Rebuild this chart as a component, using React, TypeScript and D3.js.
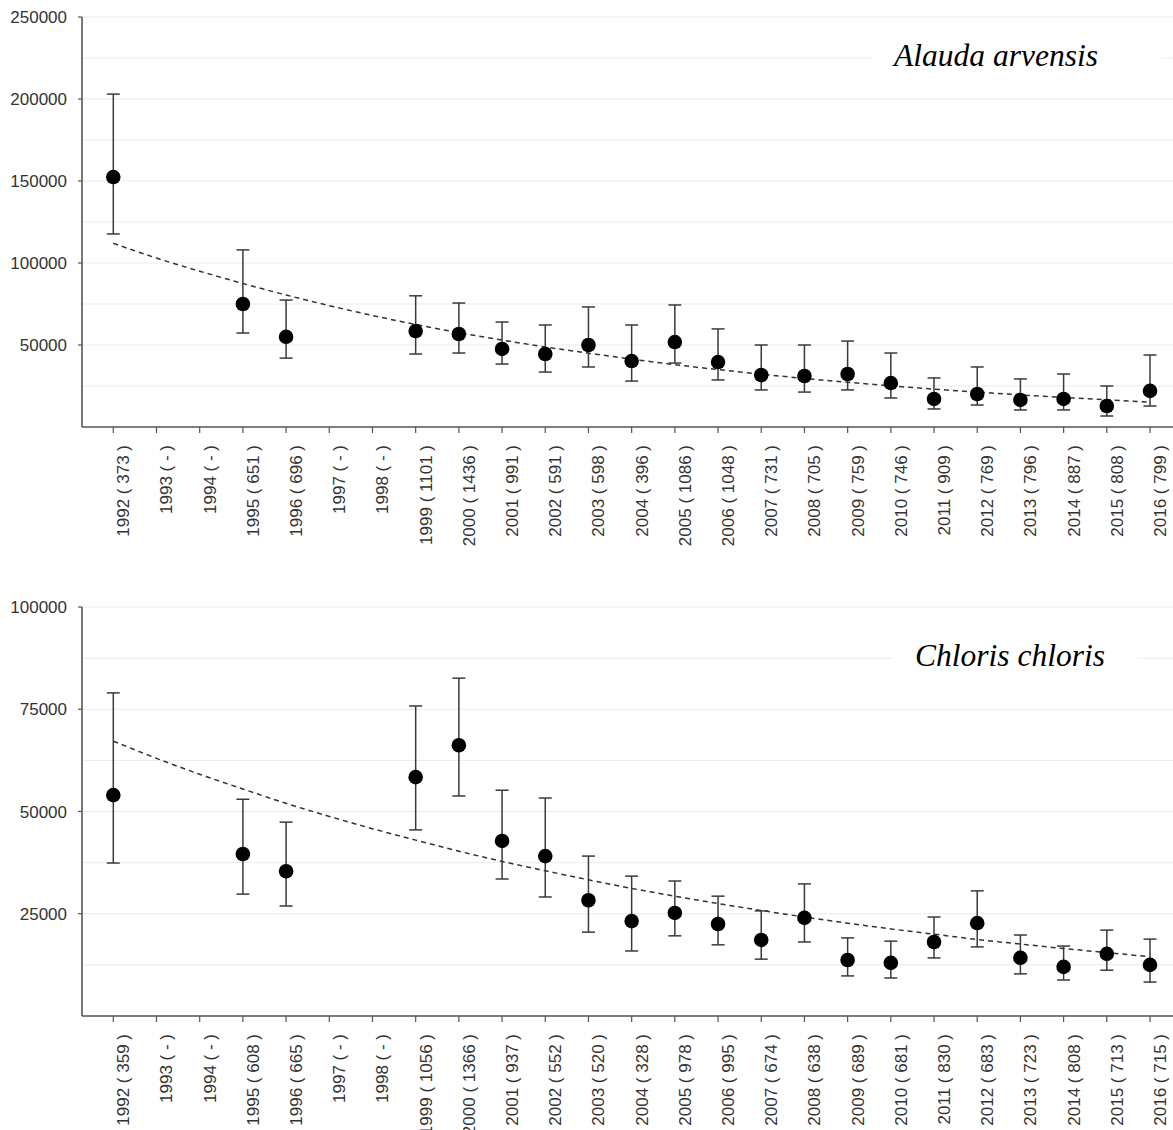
import React from "react";
import * as d3 from "d3";

const years = [1992,1993,1994,1995,1996,1997,1998,1999,2000,2001,2002,2003,2004,2005,2006,2007,2008,2009,2010,2011,2012,2013,2014,2015,2016];

// Panel 1: Alauda arvensis
const alaudaN = ["373","-","-","651","696","-","-","1101","1436","991","591","598","396","1086","1048","731","705","759","746","909","769","796","887","808","799"];
const alaudaMean = [152400,null,null,75000,55000,null,null,58500,56700,47600,44500,50000,40200,51800,39600,31700,31100,32300,26800,17100,20100,16500,17100,12800,22000];
const alaudaLower = [117700,null,null,57300,42000,null,null,44500,45100,38400,33500,36600,28000,39000,28700,22600,21300,22600,17700,11000,13400,10400,10400,6700,12800];
const alaudaUpper = [203000,null,null,108000,77400,null,null,80000,75600,64000,62200,73200,62200,74400,59800,50000,50000,52400,45100,29900,36600,29300,32300,25000,43900];
const alaudaTrend = [112000,103000,95000,87500,80500,74000,68000,62500,57500,53000,48800,45000,41400,38000,35000,32200,29600,27300,25100,23100,21300,19600,18000,16600,15200];
const alaudaTicks = [50000,100000,150000,200000,250000];

// Panel 2: Chloris chloris
const chlorisN = ["359","-","-","608","665","-","-","1056","1366","937","552","520","328","978","995","674","638","689","681","830","683","723","808","713","715"];
const chlorisMean = [54000,null,null,39600,35400,null,null,58400,66200,42800,39100,28300,23200,25200,22500,18600,24000,13700,13000,18100,22700,14200,12000,15200,12500];
const chlorisLower = [37400,null,null,29800,26900,null,null,45500,53800,33500,29100,20500,15900,19600,17400,13900,18100,9800,9300,14200,16900,10300,8800,11200,8300];
const chlorisUpper = [79000,null,null,53000,47400,null,null,75800,82600,55200,53300,39100,34200,33000,29300,25700,32300,19100,18300,24200,30600,19800,17100,21000,18800];
const chlorisTrend = [67200,63000,59100,55500,52000,48800,45800,43000,40300,37800,35500,33300,31200,29300,27500,25800,24200,22700,21300,20000,18700,17600,16500,15500,14500];
const chlorisTicks = [25000,50000,75000,100000];

const W = 1173;
const H = 1130;
const AXIS_X = 82;
const FONT = "'Liberation Sans', Arial, sans-serif";

type PanelProps = {
  title: string;
  n: string[];
  mean: (number | null)[];
  lower: (number | null)[];
  upper: (number | null)[];
  trend: number[];
  ticks: number[];
  yMax: number;
  top: number;
  bottom: number;
  boxX0: number;
  boxX1: number;
  titleX: number;
  titleY: number;
};

function Panel(p: PanelProps) {
  const x = d3.scalePoint<number>().domain(years).range([113.3, 1150]);
  const y = d3.scaleLinear().domain([0, p.yMax]).range([p.bottom, p.top]);
  const step = p.ticks[1] - p.ticks[0];
  const minor = p.ticks.map((t) => t - step / 2).filter((t) => t > 0);
  const line = d3
    .line<number>()
    .x((_, i) => x(years[i]) as number)
    .y((d) => y(d))
    .curve(d3.curveMonotoneX);
  const cap = 6.5;
  return (
    <g>
      {minor.map((t) => (
        <line key={"mn" + t} x1={AXIS_X} x2={W} y1={y(t)} y2={y(t)} stroke="#ebebeb" strokeWidth={1} />
      ))}
      {p.ticks.map((t) => (
        <line key={"mj" + t} x1={AXIS_X} x2={W} y1={y(t)} y2={y(t)} stroke="#ebebeb" strokeWidth={1.2} />
      ))}
      <rect x={p.boxX0} y={p.titleY - 36} width={p.boxX1 - p.boxX0} height={52} fill="#fff" />
      <text
        x={p.titleX}
        y={p.titleY}
        textAnchor="middle"
        fontFamily="'Liberation Serif', 'Times New Roman', serif"
        fontStyle="italic"
        fontSize={31.5}
        fill="#000"
      >
        {p.title}
      </text>
      <path d={line(p.trend) || ""} fill="none" stroke="#333" strokeWidth={1.5} strokeDasharray="5,4" />
      {years.map((yr, i) => {
        const m = p.mean[i];
        const lo = p.lower[i];
        const hi = p.upper[i];
        if (m == null || lo == null || hi == null) return null;
        const cx = x(yr) as number;
        return (
          <g key={"e" + yr}>
            <line x1={cx} x2={cx} y1={y(lo)} y2={y(hi)} stroke="#3a3a3a" strokeWidth={1.5} />
            <line x1={cx - cap} x2={cx + cap} y1={y(lo)} y2={y(lo)} stroke="#3a3a3a" strokeWidth={1.5} />
            <line x1={cx - cap} x2={cx + cap} y1={y(hi)} y2={y(hi)} stroke="#3a3a3a" strokeWidth={1.5} />
            <circle cx={cx} cy={y(m)} r={7.3} fill="#000" />
          </g>
        );
      })}
      <line x1={AXIS_X} x2={AXIS_X} y1={p.top} y2={p.bottom} stroke="#555" strokeWidth={1.6} />
      <line x1={AXIS_X} x2={W} y1={p.bottom} y2={p.bottom} stroke="#555" strokeWidth={1.6} />
      {p.ticks.map((t) => (
        <g key={"yt" + t}>
          <line x1={AXIS_X - 4} x2={AXIS_X} y1={y(t)} y2={y(t)} stroke="#555" strokeWidth={1.2} />
          <text x={67} y={y(t)} dy="0.36em" textAnchor="end" fontFamily={FONT} fontSize={17} fill="#333">
            {t}
          </text>
        </g>
      ))}
      {years.map((yr, i) => {
        const cx = x(yr) as number;
        return (
          <g key={"xt" + yr}>
            <line x1={cx} x2={cx} y1={p.bottom} y2={p.bottom + 6} stroke="#555" strokeWidth={1.2} />
            <text
              transform={`translate(${cx + 16},${p.bottom + 18}) rotate(-90)`}
              textAnchor="end"
              fontFamily={FONT}
              fontSize={17}
              fill="#333"
            >
              {`${yr} ( ${p.n[i]} )`}
            </text>
          </g>
        );
      })}
    </g>
  );
}

export default function App() {
  return (
    <svg
      width={W}
      height={H}
      viewBox={`0 0 ${W} ${H}`}
      style={{ position: "absolute", left: 0, top: 0, background: "#fff" }}
    >
      <rect width={W} height={H} fill="#fff" />
      <Panel
        title="Alauda arvensis"
        n={alaudaN}
        mean={alaudaMean}
        lower={alaudaLower}
        upper={alaudaUpper}
        trend={alaudaTrend}
        ticks={alaudaTicks}
        yMax={250000}
        top={17}
        bottom={427}
        boxX0={873}
        boxX1={1161}
        titleX={996}
        titleY={66}
      />
      <Panel
        title="Chloris chloris"
        n={chlorisN}
        mean={chlorisMean}
        lower={chlorisLower}
        upper={chlorisUpper}
        trend={chlorisTrend}
        ticks={chlorisTicks}
        yMax={100000}
        top={607}
        bottom={1016}
        boxX0={893}
        boxX1={1137}
        titleX={1010}
        titleY={666}
      />
    </svg>
  );
}
